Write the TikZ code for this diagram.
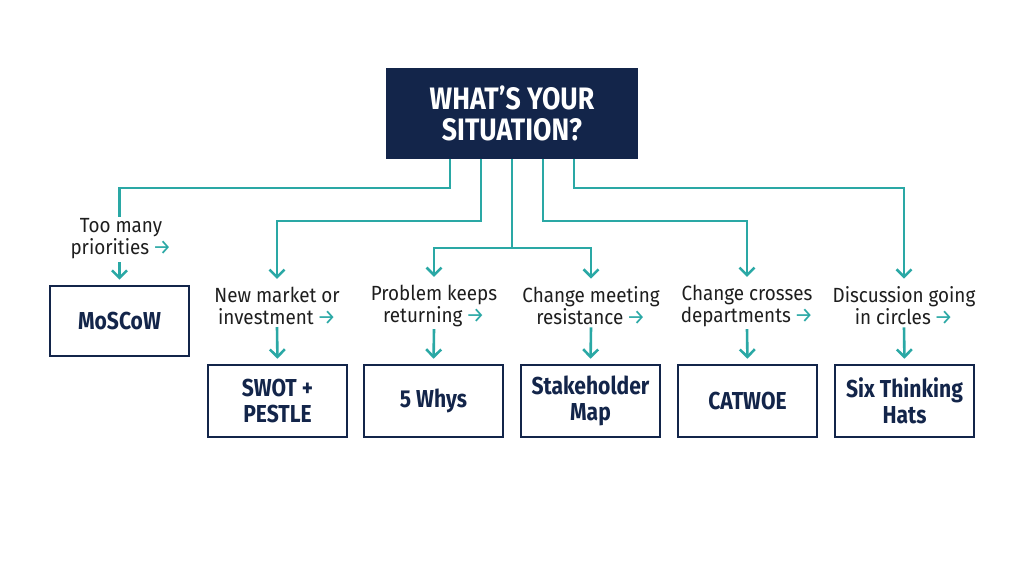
\documentclass[tikz,border=0pt]{standalone}
\usepackage{fontspec}
\setmainfont{Fira Sans}
\newfontfamily\condfont[FakeStretch=0.86]{Fira Sans}
\newfontfamily\labfont[FakeStretch=0.92]{Fira Sans}
\usetikzlibrary{arrows.meta}
\definecolor{navyc}{HTML}{13254A}
\definecolor{tealc}{HTML}{2AA8A5}
\definecolor{labc}{HTML}{1E1E1E}
\newcommand{\ra}{\,{\color{tealc}\fontspec{Fira Sans}\fontsize{21}{22}\selectfont\mdseries →}}
\tikzset{
  conn/.style={draw=tealc, line width=2.6pt},
  arr/.style={conn, -{Straight Barb[length=7.5pt,width=15pt,line width=2.6pt]}},
  method/.style={draw=navyc, line width=2.6pt, minimum width=139pt, minimum height=70pt,
    font=\condfont\bfseries\fontsize{24.5}{26}\selectfont, text=navyc, align=center, inner sep=0pt},
  sit/.style={font=\labfont\fontsize{20.5}{22}\selectfont, text=labc, align=center, inner sep=2pt},
  title/.style={fill=navyc, minimum width=252pt, minimum height=91pt,
    font=\condfont\bfseries\fontsize{31}{31}\selectfont, text=white, align=center}
}
\begin{document}
\begin{tikzpicture}[x=1pt,y=-1pt]
\useasboundingbox[fill=white] (0,0) rectangle (1024,572);
\node[title] (top) at (512,113.5) {WHAT’S YOUR\\SITUATION?};

\node[sit] (l0) at (121,239) {Too many\\priorities\ra};
\node[sit] (l1) at (277,306) {New market or\\investment\ra};
\node[sit] (l2) at (434,306) {Problem keeps\\returning\ra};
\node[sit] (l3) at (591,306) {Change meeting\\resistance\ra};
\node[sit] (l4) at (747,306) {Change crosses\\departments\ra};
\node[sit] (l5) at (904,306) {Discussion going\\in circles\ra};

\node[method] (b0) at (119.5,321) {MoSCoW};
\node[method, minimum height=72pt] (b1) at (277.5,401) {SWOT +\\PESTLE};
\node[method, minimum height=72pt] (b2) at (433.5,401) {5 Whys};
\node[method, minimum height=72pt] (b3) at (590.5,401) {Stakeholder\\Map};
\node[method, minimum height=72pt] (b4) at (747.5,401) {CATWOE};
\node[method, minimum height=72pt] (b5) at (904.5,401) {Six Thinking\\Hats};

\coordinate (hub) at (512,248);
\draw[conn] (top.south -| 450,0) -- (450,188) -| (l0.north -| b0.north);
\draw[arr] (top.south -| 481,0) -- (481,221) -| ([yshift=6pt]l1.north);
\draw[conn] (top.south) -- (hub);
\draw[arr] (hub) -| ([yshift=6pt]l2.north);
\draw[arr] (hub) -| ([yshift=6pt]l3.north);
\draw[arr] (top.south -| 543,0) -- (543,221) -| ([yshift=6pt]l4.north);
\draw[arr] (top.south -| 574,0) -- (574,188) -| ([yshift=6pt]l5.north);

\draw[arr, shorten >=5pt, shorten <=1pt] (l0.south -| b0.north) -- (b0.north);
\foreach \i in {1,...,5}{
  \draw[arr, shorten >=5pt] (l\i.south) -- (b\i.north);
}
\end{tikzpicture}
\end{document}
